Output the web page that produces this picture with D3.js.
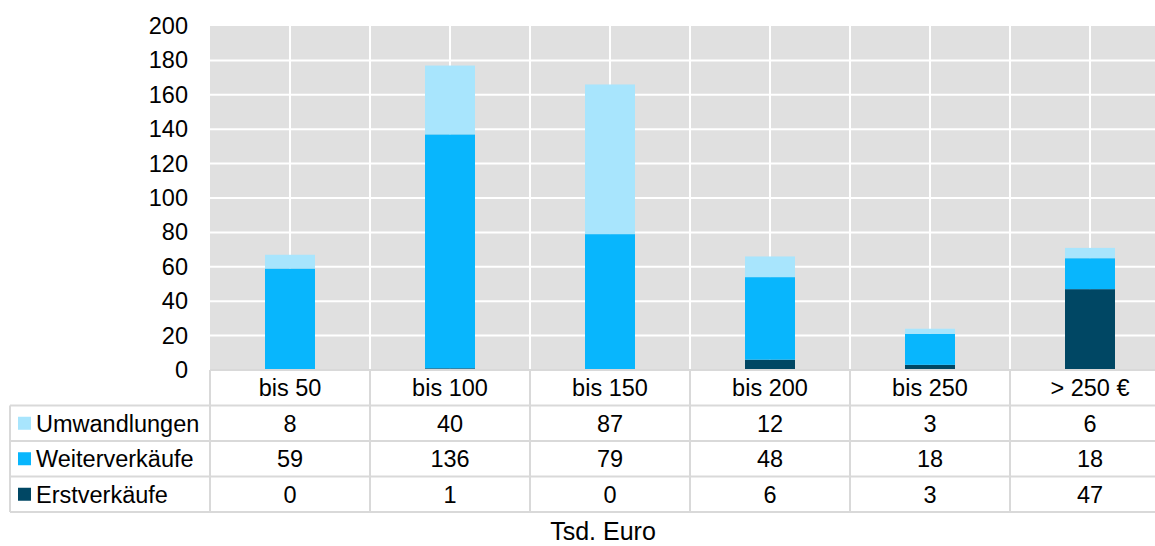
<!DOCTYPE html>
<html>
<head>
<meta charset="utf-8">
<script src="https://cdn.jsdelivr.net/npm/d3@7"></script>
<style>
  body { margin: 0; background: #fff; }
  svg { display: block; font-family: "Liberation Sans", Arial, sans-serif; }
</style>
</head>
<body>
<svg width="1155" height="546"></svg>
<script>
const categories = ["bis 50", "bis 100", "bis 150", "bis 200", "bis 250", "> 250 €"];
const erstverkaeufe = [0, 1, 0, 6, 3, 47];
const weiterverkaeufe = [59, 136, 79, 48, 18, 18];
const umwandlungen = [8, 40, 87, 12, 3, 6];
const yTicks = [0, 20, 40, 60, 80, 100, 120, 140, 160, 180, 200];

// series drawn bottom to top; table rows go top to bottom
const series = [
  { name: "Erstverkäufe", values: erstverkaeufe, color: "#004764" },
  { name: "Weiterverkäufe", values: weiterverkaeufe, color: "#08b6fd" },
  { name: "Umwandlungen", values: umwandlungen, color: "#a8e5fd" }
];

const svg = d3.select("svg");
const plotLeft = 210, plotRight = 1170, plotTop = 26, plotBottom = 370;
const rowH = 35.5;
const gridColor = "#d9d9d9";
const fs = 23.5;

const x = d3.scaleBand().domain(categories).range([plotLeft, plotRight]).paddingInner(0).paddingOuter(0);
const y = d3.scaleLinear().domain([0, 200]).range([plotBottom, plotTop]);

// plot background
svg.append("rect")
  .attr("x", plotLeft).attr("y", plotTop)
  .attr("width", plotRight - plotLeft).attr("height", plotBottom - plotTop)
  .attr("fill", "#e0e0e0");

// horizontal gridlines
svg.append("g").selectAll("line")
  .data(yTicks.filter(t => t > 0 && t < 200))
  .join("line")
  .attr("x1", plotLeft).attr("x2", plotRight)
  .attr("y1", d => y(d)).attr("y2", d => y(d))
  .attr("stroke", "#fff").attr("stroke-width", 2);

// vertical gridlines at band edges and band centres
const vLines = [];
categories.forEach((c, i) => {
  if (i > 0) vLines.push(x(c));
  vLines.push(x(c) + x.bandwidth() / 2);
});
svg.append("g").selectAll("line")
  .data(vLines)
  .join("line")
  .attr("x1", d => d).attr("x2", d => d)
  .attr("y1", plotTop).attr("y2", plotBottom)
  .attr("stroke", "#fff").attr("stroke-width", 2);

// stacked bars
const stackData = categories.map((c, i) => {
  const o = { cat: c };
  series.forEach(s => { o[s.name] = s.values[i]; });
  return o;
});
const stacked = d3.stack().keys(series.map(s => s.name))(stackData);
const barW = 50;

svg.append("g").selectAll("g")
  .data(stacked)
  .join("g")
  .attr("fill", (d, i) => series[i].color)
  .selectAll("rect")
  .data(d => d)
  .join("rect")
  .attr("x", d => x(d.data.cat) + x.bandwidth() / 2 - barW / 2)
  .attr("width", barW)
  .attr("y", d => y(d[1]))
  .attr("height", d => y(d[0]) - y(d[1]));

// y axis labels
const yAxis = d3.axisLeft(y).tickValues(yTicks).tickSize(0).tickPadding(0);
const yG = svg.append("g").attr("transform", `translate(188,0)`).call(yAxis);
yG.select(".domain").remove();
yG.selectAll("text").attr("font-size", fs).attr("fill", "#000")
  .attr("font-family", "Liberation Sans, Arial, sans-serif");

// data table
const table = svg.append("g");
const tableLeft = 10;
const rowsTop = plotBottom + rowH;
const rows = series.slice().reverse();

// category header row
table.selectAll("text.cat")
  .data(categories)
  .join("text")
  .attr("class", "cat")
  .attr("x", d => x(d) + x.bandwidth() / 2)
  .attr("y", plotBottom + rowH / 2 + 8.5)
  .attr("text-anchor", "middle")
  .attr("font-size", fs)
  .text(d => d);

// grid lines of the table
const hLines = [
  { y: plotBottom, x1: plotLeft },
  ...d3.range(rows.length + 1).map(i => ({ y: rowsTop + i * rowH, x1: tableLeft }))
];
table.selectAll("line.h")
  .data(hLines)
  .join("line")
  .attr("class", "h")
  .attr("x1", d => d.x1).attr("x2", plotRight)
  .attr("y1", d => d.y).attr("y2", d => d.y)
  .attr("stroke", gridColor).attr("stroke-width", 2);

const tableVs = [{ x: tableLeft, y1: rowsTop }].concat(
  categories.map(c => ({ x: x(c), y1: plotBottom })),
  [{ x: plotRight, y1: plotBottom }]
);
table.selectAll("line.v")
  .data(tableVs)
  .join("line")
  .attr("class", "v")
  .attr("x1", d => d.x).attr("x2", d => d.x)
  .attr("y1", d => d.y1).attr("y2", rowsTop + rows.length * rowH)
  .attr("stroke", gridColor).attr("stroke-width", 2);

rows.forEach((s, r) => {
  const cy = rowsTop + r * rowH + rowH / 2;
  table.append("rect")
    .attr("x", 18).attr("y", cy - 6.5)
    .attr("width", 13).attr("height", 13)
    .attr("fill", s.color);
  table.append("text")
    .attr("x", 36).attr("y", cy + 8.5)
    .attr("font-size", fs)
    .text(s.name);
  table.selectAll(null)
    .data(s.values)
    .join("text")
    .attr("x", (d, i) => x(categories[i]) + x.bandwidth() / 2)
    .attr("y", cy + 8.5)
    .attr("text-anchor", "middle")
    .attr("font-size", fs)
    .text(d => d);
});

// axis title
svg.append("text")
  .attr("x", 603).attr("y", 540)
  .attr("text-anchor", "middle")
  .attr("font-size", 25)
  .text("Tsd. Euro");
</script>
</body>
</html>
